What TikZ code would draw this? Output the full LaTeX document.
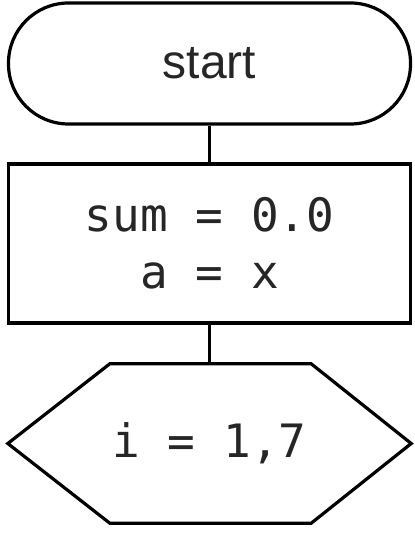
\documentclass[tikz,border=0pt]{standalone}
\usepackage{fontspec}
\setmainfont{Liberation Sans}
\newfontfamily\codefont{DejaVu Sans Mono}
\begin{document}
\begin{tikzpicture}[x=1pt,y=-1pt,
  shapeline/.style={line width=3.2pt, black},
  termbox/.style={shapeline, draw, fill=white, minimum width=402pt, minimum height=121pt,
     rounded corners=60pt, inner sep=0pt, font=\fontsize{48}{54}\selectfont, text=black!85},
  procbox/.style={shapeline, draw, fill=white, minimum width=402pt, minimum height=159pt,
     inner sep=0pt, align=center, font=\codefont\fontsize{46}{57}\selectfont, text=black!85},
  loopbox/.style={minimum width=403pt, minimum height=159pt, inner sep=0pt,
     font=\codefont\fontsize{46}{57}\selectfont, text=black!85},
  link/.style={shapeline}]
\useasboundingbox (0,0) rectangle (414,534);
\node[termbox] (start) at (209.5,63.5) {start};
\node[procbox] (init) at (209.5,243.5) {sum = 0.0\\a = x};
\node[loopbox] (loop) at (209.5,443.5) {i = 1,7};
\draw[shapeline, line join=miter]
  (loop.west) -- ([xshift=102pt]loop.north west) -- ([xshift=-100pt]loop.north east)
  -- (loop.east) -- ([xshift=-100pt]loop.south east) -- ([xshift=102pt]loop.south west) -- cycle;
\draw[link] (start.south) -- (init.north);
\draw[link] (init.south) -- (loop.north);
\end{tikzpicture}
\end{document}
